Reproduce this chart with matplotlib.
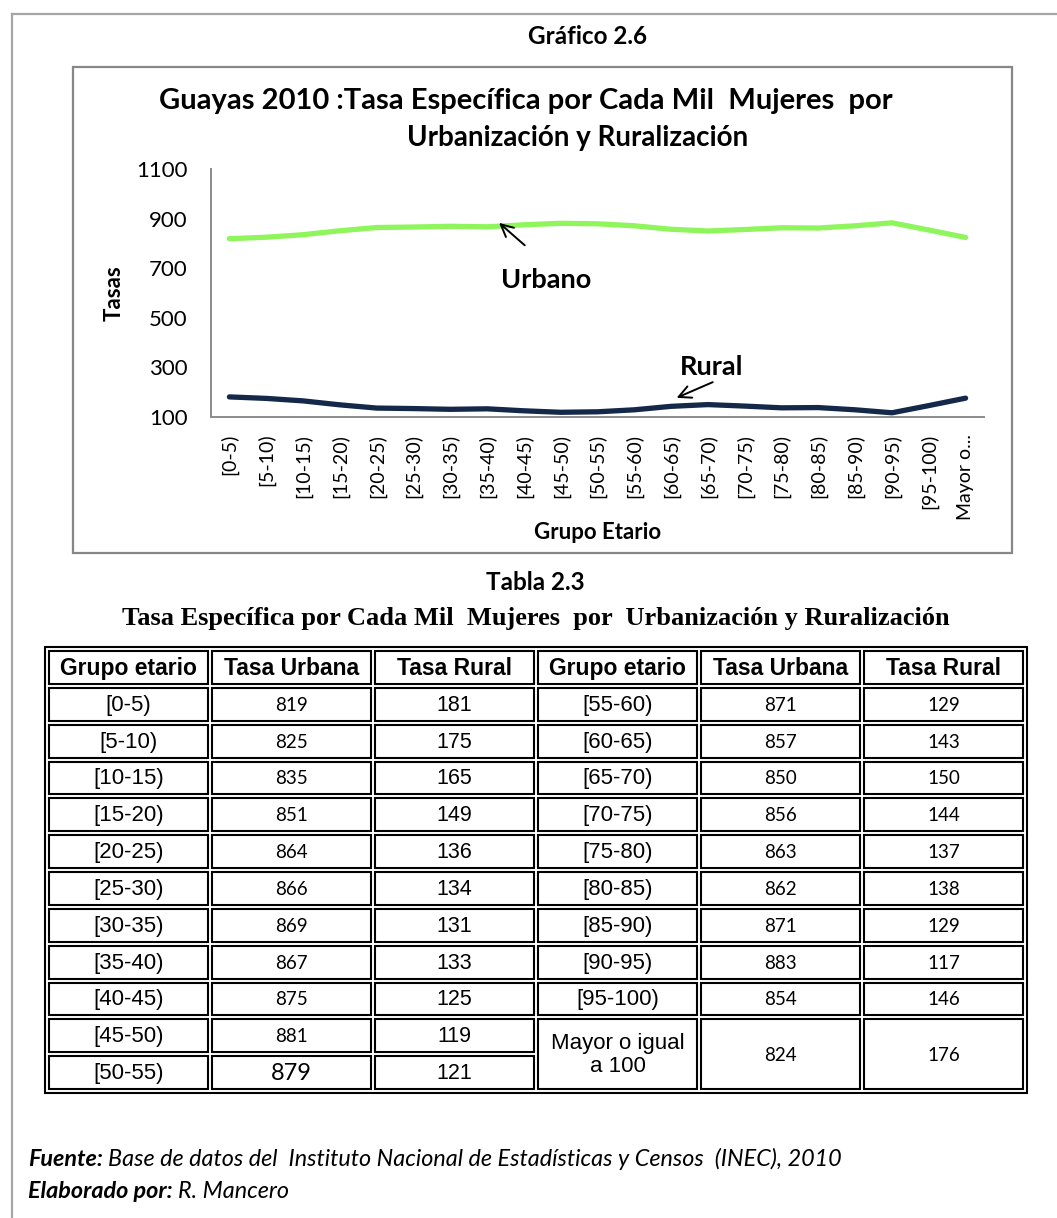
import matplotlib
matplotlib.use("Agg")
import matplotlib.pyplot as plt
from matplotlib.patches import Rectangle

# ---------------------------------------------------------------
# data
# ---------------------------------------------------------------
grupos = ["[0-5)", "[5-10)", "[10-15)", "[15-20)", "[20-25)", "[25-30)", "[30-35)",
          "[35-40)", "[40-45)", "[45-50)", "[50-55)", "[55-60)", "[60-65)", "[65-70)",
          "[70-75)", "[75-80)", "[80-85)", "[85-90)", "[90-95)", "[95-100)",
          "Mayor o igual a 100"]
tick_labels = grupos[:-1] + ["Mayor o..."]
tasa_urbana = [819, 825, 835, 851, 864, 866, 869, 867, 875, 881, 879,
               871, 857, 850, 856, 863, 862, 871, 883, 854, 824]
tasa_rural = [181, 175, 165, 149, 136, 134, 131, 133, 125, 119, 121,
              129, 143, 150, 144, 137, 138, 129, 117, 146, 176]
yticks = [100, 300, 500, 700, 900, 1100]

W, H = 1057, 1218
CAL = ["Lato", "DejaVu Sans"]
ARIAL = ["Liberation Sans", "DejaVu Sans"]
TIMES = ["Liberation Serif", "DejaVu Serif"]

fig = plt.figure(figsize=(W / 100, H / 100), dpi=100)
bg = fig.add_axes([0, 0, 1, 1])
bg.set_xlim(0, W)
bg.set_ylim(H, 0)
bg.axis("off")


def fpos(x0, y0, x1, y1):
    # pixel box -> figure fraction
    return [x0 / W, 1 - y1 / H, (x1 - x0) / W, (y1 - y0) / H]


# outer page frame and chart frame
bg.plot([12, W], [14, 14], color="#a6a6a6", lw=1.6)
bg.plot([12, 12], [14, H], color="#a6a6a6", lw=1.6)
bg.add_patch(Rectangle((73, 67), 1012 - 73, 553 - 67, fill=False, ec="#878787", lw=1.6))

bg.text(587, 37, "Gráfico 2.6", family=CAL, weight="bold", fontsize=17.5, ha="center", va="center")
bg.text(526, 101, "Guayas 2010 :Tasa Específica por Cada Mil  Mujeres  por",
        family=CAL, weight="bold", fontsize=21, ha="center", va="center")
bg.text(578, 138, "Urbanización y Ruralización", family=CAL, weight="bold",
        fontsize=20, ha="center", va="center")

# ---------------------------------------------------------------
# line chart
# ---------------------------------------------------------------
ax = fig.add_axes(fpos(211, 169, 984, 417))
x = list(range(len(grupos)))
ax.plot(x, tasa_urbana, color="#8ef65c", lw=3.8, solid_joinstyle="round", solid_capstyle="round")
ax.plot(x, tasa_rural, color="#14284a", lw=3.8, solid_joinstyle="round", solid_capstyle="round")
ax.set_xlim(-0.5, len(grupos) - 0.5)
ax.set_ylim(100, 1100)
ax.set_yticks(yticks)
ax.set_yticklabels([str(v) for v in yticks], family=CAL, fontsize=16)
ax.set_xticks(x)
ax.set_xticklabels(tick_labels, rotation=90, family=CAL, fontsize=14, va="top")
ax.tick_params(axis="y", length=0, pad=17)
ax.tick_params(axis="x", length=0, pad=12)
for s in ["top", "right"]:
    ax.spines[s].set_visible(False)
for s in ["left", "bottom"]:
    ax.spines[s].set_color("#8c8c8c")
    ax.spines[s].set_linewidth(1.4)
ax.set_ylabel("Tasas", family=CAL, weight="bold", fontsize=16, labelpad=8)
ax.set_xlabel("Grupo Etario", family=CAL, weight="bold", fontsize=16, labelpad=2)

ax.annotate("", xy=(7.27, 890), xytext=(8.08, 785),
            arrowprops=dict(arrowstyle="->", lw=1.4, color="black", mutation_scale=22))
ax.text(8.6, 652, "Urbano", family=CAL, weight="bold", fontsize=19.5, ha="center", va="center")
ax.annotate("", xy=(12.08, 173), xytext=(13.2, 245),
            arrowprops=dict(arrowstyle="->", lw=1.4, color="black", mutation_scale=22))
ax.text(13.1, 302, "Rural", family=CAL, weight="bold", fontsize=19.5, ha="center", va="center")

# ---------------------------------------------------------------
# table
# ---------------------------------------------------------------
bg.text(535, 583, "Tabla 2.3", family=CAL, weight="bold", fontsize=17.5, ha="center", va="center")
bg.text(536, 619, "Tasa Específica por Cada Mil  Mujeres  por  Urbanización y Ruralización",
        family=TIMES, weight="bold", fontsize=19, ha="center", va="center")

tx0, tx1, ty0, ty1 = 45, 1027, 647, 1093
bg.add_patch(Rectangle((tx0, ty0), tx1 - tx0, ty1 - ty0, fill=False, ec="black", lw=1.5))
ncol, nrow = 6, 12
gx0, gx1, gy0, gy1 = tx0 + 2, tx1 - 2, ty0 + 2, ty1 - 2
cw = (gx1 - gx0) / ncol
rh = (gy1 - gy0) / nrow


def cell(c, r, text, span=1, family=ARIAL, size=16, weight="normal"):
    x0 = gx0 + c * cw + 2
    y0 = gy0 + r * rh + 2
    bg.add_patch(Rectangle((x0, y0), cw - 4, rh * span - 4, fill=False, ec="black", lw=1.5))
    bg.text(x0 + (cw - 4) / 2, y0 + (rh * span - 4) / 2 + 1, text, family=family,
            fontsize=size, weight=weight, ha="center", va="center", linespacing=1.1)


headers = ["Grupo etario", "Tasa Urbana", "Tasa Rural"] * 2
for c, h in enumerate(headers):
    cell(c, 0, h, weight="bold", size=16.5)

for i in range(11):
    cell(0, i + 1, grupos[i])
    cell(1, i + 1, str(tasa_urbana[i]), family=CAL, size=17 if i == 10 else 13.5)
    cell(2, i + 1, str(tasa_rural[i]), size=15.5)

for i in range(11, 20):
    r = i - 10
    cell(3, r, grupos[i])
    cell(4, r, str(tasa_urbana[i]), family=CAL, size=13.5)
    cell(5, r, str(tasa_rural[i]), family=CAL, size=13.5)

cell(3, 10, "Mayor o igual\na 100", span=2)
cell(4, 10, str(tasa_urbana[20]), span=2, family=CAL, size=13.5)
cell(5, 10, str(tasa_rural[20]), span=2, family=CAL, size=13.5)

# ---------------------------------------------------------------
# footnotes
# ---------------------------------------------------------------
renderer = fig.canvas.get_renderer()


def two_part(x, y, bold_txt, rest):
    t = bg.text(x, y, bold_txt, family=CAL, weight="bold", style="italic",
                fontsize=16.8, ha="left", va="center")
    bb = t.get_window_extent(renderer)
    bg.text(x + bb.width + 5, y, rest, family=CAL, style="italic",
            fontsize=16.8, ha="left", va="center")


two_part(28, 1159, "Fuente:", "Base de datos del  Instituto Nacional de Estadísticas y Censos  (INEC), 2010")
two_part(28, 1192, "Elaborado por:", "R. Mancero")

fig.savefig("out.png", dpi=100)
